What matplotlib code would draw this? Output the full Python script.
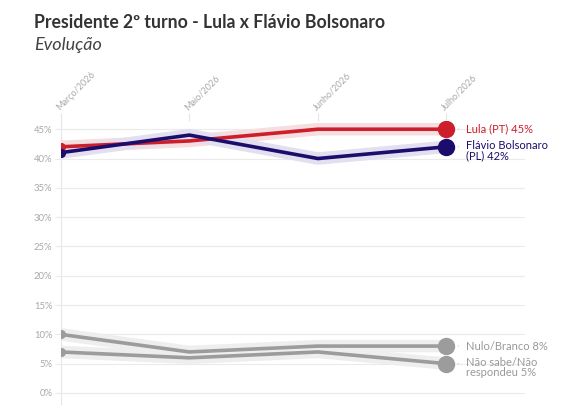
import matplotlib.pyplot as plt

plt.rcParams.update({'font.family': ['Lato', 'DejaVu Sans'], 'axes.unicode_minus': False})

meses = ['Março/2026', 'Maio/2026', 'Junho/2026', 'Julho/2026']
lula = [42, 43, 45, 45]
flavio = [41, 44, 40, 42]
nulo = [10, 7, 8, 8]
nao_sabe = [7, 6, 7, 5]
yticks = [0, 5, 10, 15, 20, 25, 30, 35, 40, 45]

series = [
    (lula, '#cc1f2b', '#f6dde0', 'Lula (PT) 45%', '#cc1f2b'),
    (flavio, '#1c0c6c', '#e2dff0', 'Flávio Bolsonaro\n(PL) 42%', '#1c0c6c'),
    (nulo, '#9c9c9c', '#eeeeee', 'Nulo/Branco 8%', '#999999'),
    (nao_sabe, '#9c9c9c', '#eeeeee', 'Não sabe/Não\nrespondeu 5%', '#999999'),
]

fig = plt.figure(figsize=(5.8, 4.05), dpi=100)
ax = fig.add_axes([0.1047, 0.0, 0.8003, 0.7012])
x = list(range(len(meses)))

for vals, cor, halo, rotulo, cor_txt in series:
    ax.plot(x, vals, color=halo, lw=9, solid_capstyle='round', zorder=2)
for vals, cor, halo, rotulo, cor_txt in series:
    ax.plot(x, vals, color=cor, lw=2.6, zorder=3)
    ax.plot(x[0], vals[0], 'o', color=cor, ms=5.5, zorder=4)
    ax.plot(x[-1], vals[-1], 'o', color=cor, ms=11.5, zorder=4)
    dois = '\n' in rotulo
    ax.annotate(rotulo, xy=(x[-1], vals[-1]), xytext=(14, 5 if dois else 0),
                textcoords='offset points', va='top' if dois else 'center', ha='left',
                fontsize=8, color=cor_txt, linespacing=0.95)
    ax.annotate('', xy=(x[-1] + 0.09, vals[-1]), xytext=(x[-1] + 0.115, vals[-1] + 0.3),
                arrowprops=dict(arrowstyle='-', color='#cccccc', lw=0.6))

ax.set_xlim(0, 3.61)
ax.set_ylim(-2.05, 46.4)
ax.set_yticks(yticks)
ax.set_yticklabels([f'{v}%' for v in yticks])
ax.grid(axis='y', color='#ebebeb', lw=0.8)
ax.set_axisbelow(True)

ax.xaxis.tick_top()
ax.set_xticks(x)
ax.set_xticklabels(meses, rotation=45, ha='left', va='bottom', rotation_mode='anchor')
ax.tick_params(axis='x', length=5.5, color='#e6e6e6', labelsize=6.5, labelcolor='#a8a8a8', pad=1)
ax.tick_params(axis='y', length=4, color='#ebebeb', labelsize=6.8, labelcolor='#a8a8a8', pad=2)

for s in ['top', 'right', 'bottom']:
    ax.spines[s].set_visible(False)
ax.spines['left'].set_color('#e6e6e6')
ax.spines['left'].set_linewidth(0.8)

fig.text(0.0586, 0.945, 'Presidente 2º turno - Lula x Flávio Bolsonaro', fontsize=12.7,
         fontweight='bold', color='#333333', va='center')
fig.text(0.0586, 0.888, 'Evolução', fontsize=13, style='italic', color='#444444',
         va='center')

fig.savefig('out.png', dpi=100)
